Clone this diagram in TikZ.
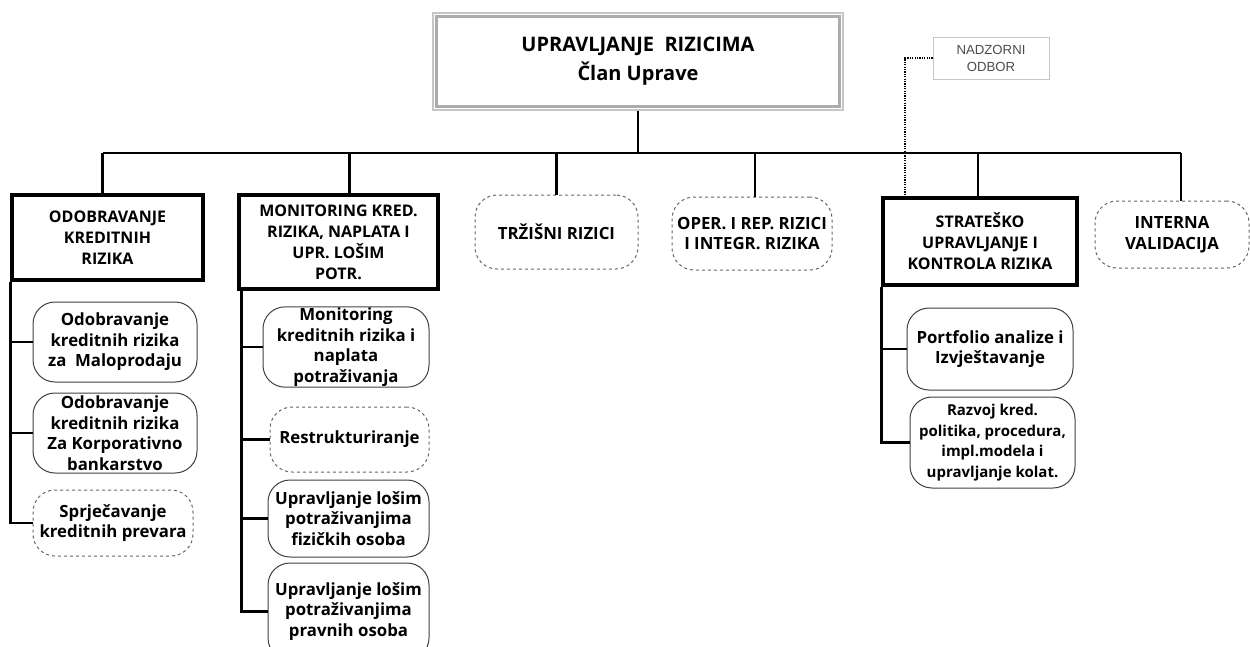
\documentclass[tikz,border=0pt]{standalone}
\usepackage{fontspec}
\setmainfont{Open Sans}
\newfontfamily\nadfont{Liberation Sans}
\usetikzlibrary{calc}

\tikzset{
  conn/.style={line width=2.2pt, black},
  head/.style={draw, line width=3.2pt, align=center, inner sep=1pt,
    font=\bfseries\fontsize{16}{21}\selectfont},
  unit/.style={draw=black!75, line width=1pt, rounded corners=22pt, align=center,
    inner sep=1pt, font=\bfseries\fontsize{16.8}{20.5}\selectfont},
  unitdash/.style={unit, draw=black!60, dashed},
}

\begin{document}
\begin{tikzpicture}[x=1pt, y=-1pt]
    \useasboundingbox (0,0) rectangle (1250,646);

    % Uprava
    \node[draw=gray!45, line width=1.2pt, minimum width=410pt, minimum height=97pt,
      align=center, font=\bfseries\fontsize{20}{29}\selectfont] (top) at (638,61.5)
      {UPRAVLJANJE\ \ RIZICIMA\\Član Uprave};
    \draw[gray!65, line width=3.5pt] ([shift={(4,4)}]top.north west) rectangle ([shift={(-4,-4)}]top.south east);

    % Nadzorni odbor
    \node[draw=gray!45, line width=1pt, minimum width=116pt, minimum height=42pt,
      align=center, text=black!70, font=\nadfont\fontsize{13.2}{17}\selectfont] (nad) at (991,58)
      {NADZORNI\\ODBOR};

    % Sektori
    \node[head, minimum width=191pt, minimum height=85pt] (odo) at (107.5,237.5) {ODOBRAVANJE\\KREDITNIH\\RIZIKA};
    \node[head, minimum width=199pt, minimum height=94pt] (mon) at (338.5,242) {MONITORING KRED.\\RIZIKA, NAPLATA I\\UPR. LOŠIM\\POTR.};
    \node[unitdash, minimum width=163pt, minimum height=74pt] (trz) at (556.5,232) {TRŽIŠNI RIZICI};
    \node[unitdash, minimum width=160pt, minimum height=73pt] (oper) at (752,233.5) {OPER. I REP. RIZICI\\I INTEGR. RIZIKA};
    \node[head, minimum width=194pt, minimum height=87pt] (str) at (980,241.5) {STRATEŠKO\\UPRAVLJANJE I\\KONTROLA RIZIKA};
    \node[unitdash, minimum width=154pt, minimum height=67pt] (int) at (1172,234.5) {INTERNA\\VALIDACIJA};

    % Odobravanje
    \node[unit, minimum width=164pt, minimum height=80pt] (c11) at (115,342) {Odobravanje\\kreditnih rizika\\za\ \ Maloprodaju};
    \node[unit, minimum width=164pt, minimum height=80pt] (c12) at (115,433) {Odobravanje\\kreditnih rizika\\Za Korporativno\\bankarstvo};
    \node[unitdash, minimum width=160pt, minimum height=66pt] (c13) at (113,523) {Sprječavanje\\kreditnih prevara};

    % Monitoring
    \node[unit, minimum width=166pt, minimum height=80pt] (c21) at (346,347) {Monitoring\\kreditnih rizika i\\naplata\\potraživanja};
    \node[unitdash, minimum width=159pt, minimum height=65pt] (c22) at (349.5,439.5) {Restrukturiranje};
    \node[unit, minimum width=161pt, minimum height=77pt] (c23) at (348.5,518.5) {Upravljanje lošim\\potraživanjima\\fizičkih osoba};
    \node[unit, minimum width=161pt, minimum height=97pt] (c24) at (348.5,611.5) {Upravljanje lošim\\potraživanjima\\pravnih osoba};

    % Strateško upravljanje
    \node[unit, minimum width=166pt, minimum height=82pt] (c51) at (990,349) {Portfolio analize i\\Izvještavanje};
    \node[unit, minimum width=165pt, minimum height=91pt, font=\bfseries\fontsize{15}{20.5}\selectfont] (c52) at (992.5,442.5)
      {Razvoj kred.\\politika, procedura,\\impl.modela i\\upravljanje kolat.};

    % Veze
    \coordinate (bus) at (0,153);
    \draw[conn] (top.south) -- (top.south |- bus);
    \draw[conn] ([xshift=-5pt]odo.north |- bus) -- ([xshift=9pt]int.north |- bus);
    \foreach \n/\dx in {odo/-5,mon/11,trz/0,oper/3,str/-2,int/9}
      \draw[conn] ([xshift=\dx pt]\n.north) -- ([xshift=\dx pt]\n.north |- bus);
    \draw[line width=1.3pt, dash pattern=on 1.2pt off 1.2pt] (nad.west) -| ([xshift=-75pt]str.north);

    \draw[conn] (odo.south west) |- (c13.west);
    \foreach \c in {c11,c12}
      \draw[conn] (odo.south west |- \c.west) -- (\c.west);

    \coordinate (s2) at ([xshift=4pt]mon.south west);
    \draw[conn] (s2) |- (c24.west);
    \foreach \c in {c21,c22,c23}
      \draw[conn] (s2 |- \c.west) -- (\c.west);

    \draw[conn] (str.south west) |- (c52.west);
    \draw[conn] (str.south west |- c51.west) -- (c51.west);
\end{tikzpicture}
\end{document}
